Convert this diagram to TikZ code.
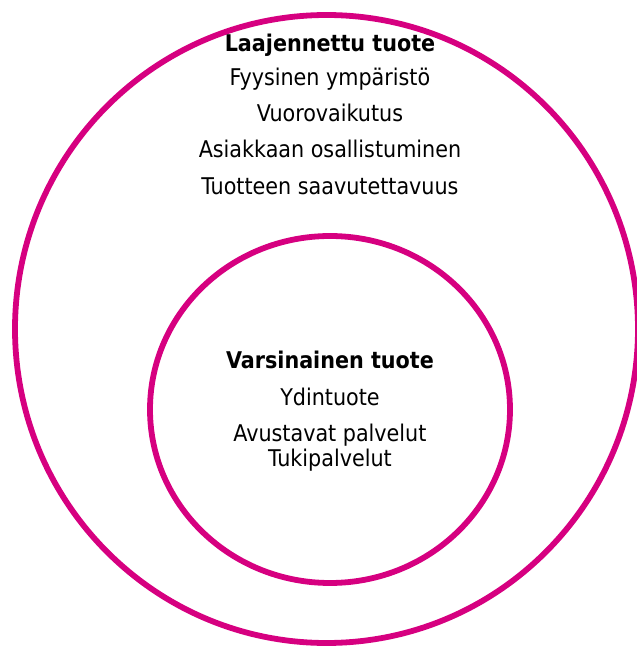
\documentclass[tikz,border=0pt]{standalone}
\usepackage{fontspec}
\setmainfont{DejaVu Sans Condensed}
\definecolor{RingMagenta}{RGB}{214, 0, 128}
\usetikzlibrary{shapes.geometric, positioning}

\begin{document}
\begin{tikzpicture}[
    ring/.style={draw=RingMagenta, line width=3.3pt, ellipse, inner sep=0pt},
    label/.style={align=center, inner sep=0pt, text=black, font=\fontsize{13.1}{20.6}\selectfont}]

    \useasboundingbox (0,0) rectangle (12.74,12.92);

    % Rings
    \node [ring, minimum width=12.46cm, minimum height=12.56cm] (outer) at (6.53,6.34) {};
    \node [ring, minimum width=7.2cm, minimum height=6.94cm] (inner) at (6.6,4.73) {};

    % Texts
    \node [label, anchor=north] (extended) at (6.6,12.24)
        {\textbf{Laajennettu tuote}\\[-1.5pt]Fyysinen ympäristö\\Vuorovaikutus\\Asiakkaan osallistuminen\\Tuotteen saavutettavuus};
    \node [label, anchor=north] (actual) at (6.6,5.9)
        {\textbf{Varsinainen tuote}\\Ydintuote\\Avustavat palvelut\\[-6pt]Tukipalvelut};
  \end{tikzpicture}
\end{document}
